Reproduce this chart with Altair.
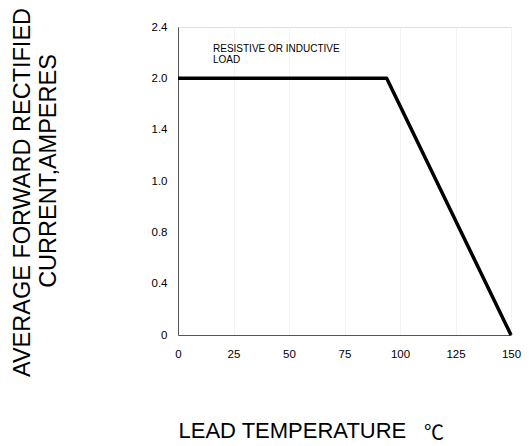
import altair as alt
import pandas as pd

# Data
temperature = [0, 94, 150]          # lead temperature, °C
current = [2.0, 2.0, 0.0]           # average forward rectified current, A

# The printed y axis is not linear: its labels are evenly spaced
y_tick_labels = ["0", "0.4", "0.8", "1.0", "1.4", "2.0", "2.4"]
y_tick_values = [0.0, 0.4, 0.8, 1.0, 1.4, 2.0, 2.4]
x_ticks = [0, 25, 50, 75, 100, 125, 150]

df = pd.DataFrame({
    "temp": temperature,
    "current": current,
    "pos": [y_tick_values.index(c) for c in current],
})

FONT = "Liberation Sans"
label_expr = "[" + ",".join(f"'{s}'" for s in y_tick_labels) + "][datum.value]"

line = alt.Chart(df).mark_line(color="black", strokeWidth=3.5, strokeJoin="round").encode(
    x=alt.X("temp:Q",
            scale=alt.Scale(domain=[0, 150], nice=False, zero=False),
            axis=alt.Axis(values=x_ticks, title="LEAD TEMPERATURE",
                          titleFont=FONT, titleFontSize=22, titleFontWeight="normal",
                          titleColor="black", titleAnchor="start", titleAlign="left",
                          titleX=0, titleY=102, titleBaseline="alphabetic",
                          labelFont=FONT, labelFontSize=11.5, labelColor="black",
                          labelPadding=13, ticks=False,
                          domainColor="#555555", domainWidth=1,
                          grid=True, gridColor="#f3f3f3", labelFlush=False)),
    y=alt.Y("pos:Q",
            scale=alt.Scale(domain=[0, len(y_tick_labels) - 1], nice=False, zero=False),
            axis=alt.Axis(values=list(range(len(y_tick_labels))), labelExpr=label_expr,
                          title="AVERAGE FORWARD RECTIFIED",
                          titleFont=FONT, titleFontSize=23.5, titleFontWeight="normal",
                          titleColor="black", titleAngle=270, titleAlign="center",
                          titleBaseline="alphabetic",
                          titleX=-149, titleY=165,
                          labelFont=FONT, labelFontSize=11.5, labelColor="black",
                          labelPadding=11, ticks=False,
                          domainColor="#555555", domainWidth=1, grid=False)),
)

ytitle2 = alt.Chart(pd.DataFrame({"t": ["CURRENT,AMPERES"]})).mark_text(
    font=FONT, fontSize=23.5, angle=270, align="center", baseline="alphabetic", color="black"
).encode(x=alt.value(-122), y=alt.value(144), text="t:N")

note = alt.Chart(pd.DataFrame({"t": ["RESISTIVE OR INDUCTIVE\nLOAD"]})).mark_text(
    font=FONT, fontSize=10, align="left", baseline="middle", lineBreak="\n",
    lineHeight=11, color="black"
).encode(x=alt.value(35), y=alt.value(22), text="t:N")

degree = alt.Chart(pd.DataFrame({"t": ["℃"]})).mark_text(
    font="Noto Sans CJK SC", fontSize=20, align="left", baseline="alphabetic", color="black"
).encode(x=alt.value(246), y=alt.value(413), text="t:N")

chart = alt.layer(line, ytitle2, note, degree).properties(
    width=333, height=308,
    autosize=alt.AutoSizeParams(type="none"),
    padding={"left": 170, "top": 19, "right": 10, "bottom": 111},
).configure_view(stroke=None).configure(background="white")

chart.save("out.html", embed_options={"renderer": "svg", "actions": False})
